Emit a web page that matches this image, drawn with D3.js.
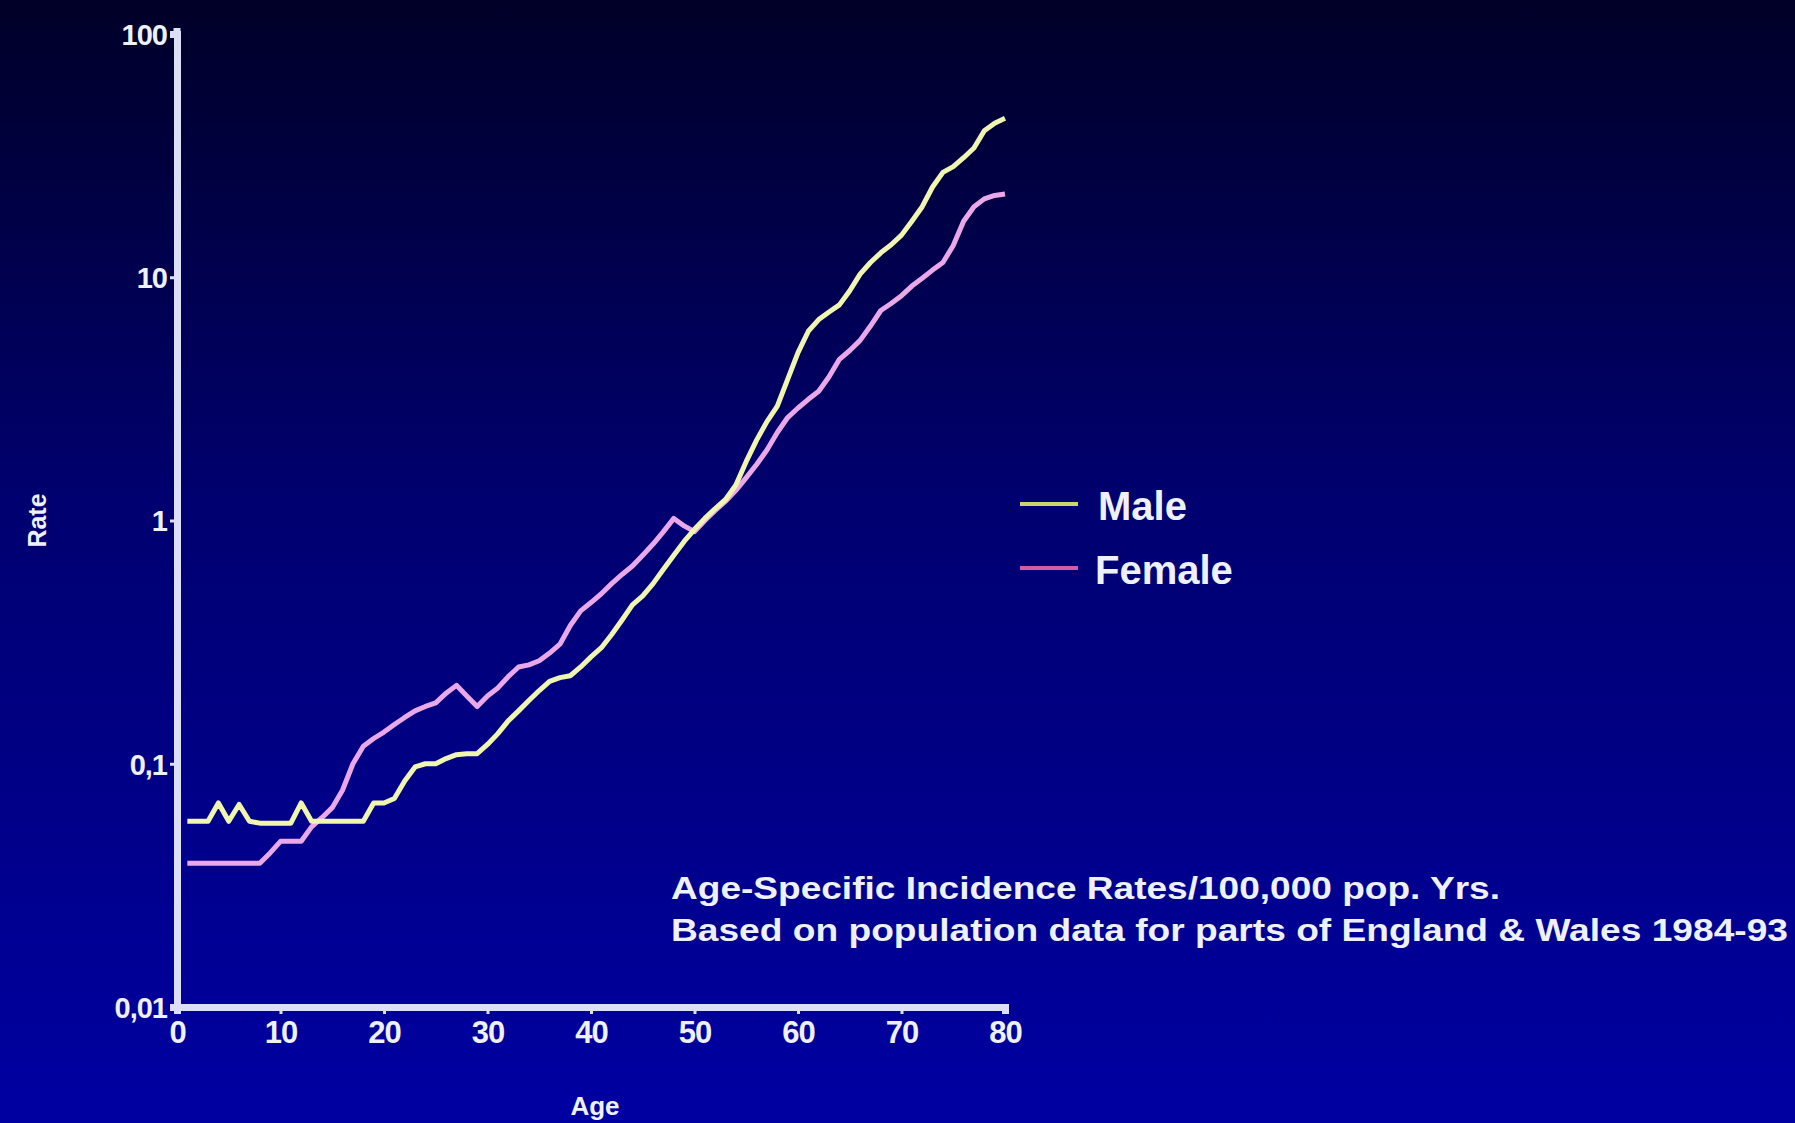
<!DOCTYPE html>
<html>
<head>
<meta charset="utf-8">
<script src="https://cdn.jsdelivr.net/npm/d3@7"></script>
<style>
  body { margin: 0; padding: 0; background: #000050; }
  svg { display: block; }
  text { font-family: "Liberation Sans", Arial, sans-serif; fill: #eef0fa; }
</style>
</head>
<body>
<div id="chart"></div>
<script>

// Ages on the x axis (years)
var ages = d3.range(1, 81);

// Rate per 100,000 pop. yrs, one value per age 1..80
var maleRates = [
  0.058, 0.058, 0.058, 0.069, 0.058, 0.068, 0.058, 0.057, 0.057, 0.057,
  0.057, 0.069, 0.058, 0.058, 0.058, 0.058, 0.058, 0.058, 0.069, 0.069,
  0.072, 0.085, 0.097, 0.100, 0.100, 0.105, 0.109, 0.110, 0.110, 0.120,
  0.133, 0.150, 0.165, 0.182, 0.200, 0.218, 0.226, 0.230, 0.250, 0.275,
  0.300, 0.340, 0.390, 0.450, 0.490, 0.550, 0.630, 0.720, 0.820, 0.920,
  1.02, 1.12, 1.22, 1.40, 1.75, 2.14, 2.55, 2.95, 3.80, 4.90,
  6.00, 6.70, 7.20, 7.70, 8.80, 10.3, 11.5, 12.6, 13.6, 14.9,
  17.0, 19.5, 23.5, 27.0, 28.5, 31.0, 34.0, 40.0, 43.0, 45.0
];

var femaleRates = [
  0.039, 0.039, 0.039, 0.039, 0.039, 0.039, 0.039, 0.039, 0.043, 0.048,
  0.048, 0.048, 0.055, 0.060, 0.066, 0.078, 0.100, 0.118, 0.127, 0.135,
  0.145, 0.155, 0.165, 0.172, 0.178, 0.195, 0.210, 0.190, 0.172, 0.190,
  0.205, 0.228, 0.250, 0.255, 0.265, 0.285, 0.310, 0.370, 0.425, 0.460,
  0.500, 0.550, 0.600, 0.650, 0.720, 0.800, 0.900, 1.02, 0.95, 0.90,
  1.00, 1.10, 1.20, 1.33, 1.50, 1.70, 1.95, 2.30, 2.65, 2.90,
  3.15, 3.40, 3.90, 4.60, 5.00, 5.50, 6.30, 7.30, 7.80, 8.40,
  9.20, 9.90, 10.7, 11.5, 13.5, 17.0, 19.5, 21.0, 21.7, 22.0
];

var seriesNames = ["Male", "Female"];
var xTicks = [0, 10, 20, 30, 40, 50, 60, 70, 80];
var yTicks = [0.01, 0.1, 1, 10, 100];
var noteLines = [
  "Age-Specific Incidence Rates/100,000 pop. Yrs.",
  "Based on population data for parts of England & Wales 1984-93"
];

var W = 1795, H = 1123;
var axisColor = "#dcdff5";
var lineColors = { Male: "#f0f5b0", Female: "#eaa8e8" };
var legendColors = { Male: "#cdd46e", Female: "#d45aa6" };

var svg = d3.select("#chart")
            .append("svg")
            .attr("width", W)
            .attr("height", H);

// background: dark navy at top fading to bright blue at the bottom
var grad = svg.append("defs")
              .append("linearGradient")
              .attr("id", "bg")
              .attr("x1", 0).attr("y1", 0).attr("x2", 0).attr("y2", 1);
grad.append("stop").attr("offset", "0%").attr("stop-color", "#000028");
grad.append("stop").attr("offset", "45%").attr("stop-color", "#000070");
grad.append("stop").attr("offset", "100%").attr("stop-color", "#0000a2");

svg.append("rect")
   .attr("width", W).attr("height", H)
   .attr("fill", "url(#bg)");

// scales
var x = d3.scaleLinear().domain([0, 80]).range([177, 1005]);
var y = d3.scaleLog().domain([0.01, 100]).range([1007, 34]);

var commaFmt = function(d) { return String(d).replace(".", ","); };

// y axis
var yAxis = svg.append("g")
   .attr("transform", "translate(" + x(0) + ",0)")
   .call(d3.axisLeft(y).tickValues(yTicks).tickFormat(commaFmt)
           .tickSizeOuter(0).tickSize(7).tickPadding(3));

// x axis
var xAxis = svg.append("g")
   .attr("transform", "translate(0," + y(0.01) + ")")
   .call(d3.axisBottom(x).tickValues(xTicks).tickFormat(d3.format("d"))
           .tickSizeOuter(0).tickSize(7).tickPadding(4));

[yAxis, xAxis].forEach(function(g) {
  g.select(".domain").attr("stroke", axisColor).attr("stroke-width", 7);
  g.selectAll(".tick line").attr("stroke", axisColor).attr("stroke-width", 3);
  g.selectAll(".tick text")
   .attr("fill", "#eef0fa")
   .style("font-weight", "bold")
   .style("letter-spacing", "-1px");
});
yAxis.selectAll(".tick text").attr("dy", "0.36em").style("font-size", "29px");
xAxis.selectAll(".tick text").attr("dy", "0.8em").style("font-size", "31px");

// extend y axis a little above the top tick
yAxis.append("line")
     .attr("x1", 0).attr("x2", 0)
     .attr("y1", y(100)).attr("y2", y(100) - 6)
     .attr("stroke", axisColor).attr("stroke-width", 7);

// axis titles
svg.append("text")
   .attr("transform", "translate(46," + y(1) + ") rotate(-90)")
   .attr("text-anchor", "middle")
   .style("font-size", "25px")
   .style("font-weight", "bold")
   .text("Rate");

svg.append("text")
   .attr("x", 595).attr("y", 1115)
   .attr("text-anchor", "middle")
   .style("font-size", "26px")
   .style("font-weight", "bold")
   .text("Age");

// the two curves
var line = d3.line()
             .x(function(d) { return x(d[0]); })
             .y(function(d) { return y(d[1]); });

var series = [
  { key: "Female", values: d3.zip(ages, femaleRates) },
  { key: "Male", values: d3.zip(ages, maleRates) }
];

svg.append("g")
   .selectAll("path")
   .data(series)
   .enter()
   .append("path")
   .attr("d", function(d) { return line(d.values); })
   .attr("fill", "none")
   .attr("stroke", function(d) { return lineColors[d.key]; })
   .attr("stroke-width", 5)
   .attr("stroke-linejoin", "round");

// legend
var legend = svg.append("g")
   .selectAll("g")
   .data(seriesNames)
   .enter()
   .append("g")
   .attr("transform", function(d, i) { return "translate(1020," + (504 + i * 64) + ")"; });

legend.append("line")
      .attr("x1", 0).attr("x2", 58)
      .attr("stroke", function(d) { return legendColors[d]; })
      .attr("stroke-width", 4);

legend.append("text")
      .attr("x", function(d, i) { return i === 0 ? 78 : 75; })
      .attr("y", 16)
      .style("font-size", "40px")
      .style("font-weight", "bold")
      .text(function(d) { return d; });

// note under the curves
svg.append("g")
   .selectAll("text")
   .data(noteLines)
   .enter()
   .append("text")
   .attr("x", 671)
   .attr("y", function(d, i) { return 899 + i * 42; })
   .attr("textLength", function(d, i) { return i === 0 ? 829 : 1117; })
   .attr("lengthAdjust", "spacingAndGlyphs")
   .style("font-size", "31px")
   .style("font-weight", "bold")
   .text(function(d) { return d; });

</script>
</body>
</html>
